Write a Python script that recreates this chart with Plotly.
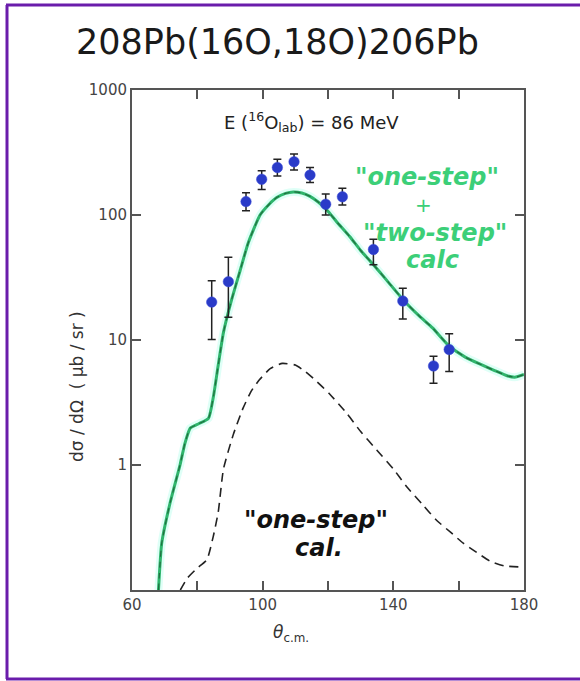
import plotly.graph_objects as go

# ---------------- data ----------------
theta_exp = [84.4, 89.5, 94.9, 99.7, 104.5, 109.6, 114.5, 119.3, 124.4, 133.9, 142.9, 152.3, 157.1]
sigma_exp = [20.1, 29.3, 128, 193, 240, 267, 209, 122, 140, 53, 20.5, 6.2, 8.4]
err_hi    = [29.8, 45.9, 151, 226, 279, 307, 240, 147, 164, 64, 26, 7.4, 11.2]
err_lo    = [10.1, 15.2, 108, 160, 205, 229, 182, 100, 120, 40, 14.7, 4.5, 5.6]

theta_sum = [68.1, 69.1, 71.6, 74.7, 76.2, 77.8, 80.3, 83.4, 84.9, 86.4, 88.0, 90.5, 93.1,
             95.6, 99.2, 102.0, 104.3, 107.0, 109.4, 112.0, 114.5, 117.0, 119.6, 122.7,
             126.7, 130.0, 133.9, 138.0, 143.0, 148.0, 152.0, 157.0, 162.0, 166.6, 171.0,
             175.0, 177.5, 180.0]
sigma_sum = [0.1, 0.237, 0.49, 1.0, 1.49, 1.97, 2.13, 2.36, 3.5, 6.3, 11.5, 21, 36,
             60, 100, 122, 138, 149, 153, 150, 141, 127, 110, 88,
             67, 52, 40, 30, 21, 15.5, 12.5, 9.0, 7.3, 6.4, 5.7,
             5.15, 5.05, 5.3]

theta_one = [74.8, 77.0, 80.0, 82.9, 84.9, 86.4, 88.0, 91.0, 94.0, 96.5, 99.0, 102.3, 106.0,
             110.0, 113.0, 116.0, 120.5, 125.7, 130.0, 134.9, 140.0, 144.1, 149.0, 153.3,
             157.5, 161.4, 165.5, 169.6, 174.0, 178.8, 180.0]
sigma_one = [0.1, 0.125, 0.15, 0.174, 0.27, 0.42, 0.93, 1.75, 2.85, 3.9, 4.8, 5.9, 6.5,
             6.3, 5.6, 4.8, 3.7, 2.6, 1.85, 1.32, 0.93, 0.67, 0.48, 0.36,
             0.29, 0.237, 0.2, 0.17, 0.156, 0.153, 0.153]

x_tickvals = [60, 80, 100, 120, 140, 160, 180]
x_ticktext = ["60", "", "100", "", "140", "", "180"]
y_tickvals = [1, 10, 100, 1000]
y_ticktext = ["1", "10", "100", "1000"]

# ---------------- figure ----------------
W, H = 580, 681
L, R, T, B = 132, 56, 90, 91
pw, ph = W - L - R, H - T - B

def px(xp):
    return (xp - L) / pw

def py(yp):
    return (H - B - yp) / ph

fig = go.Figure()

# glow under the summed calculation
fig.add_trace(go.Scatter(x=theta_sum, y=sigma_sum, mode="lines",
                         line=dict(color="rgba(150,255,230,0.3)", width=8, shape="spline", smoothing=0.5),
                         hoverinfo="skip", showlegend=False))
fig.add_trace(go.Scatter(x=theta_sum, y=sigma_sum, mode="lines",
                         line=dict(color="#2fb56c", width=3, shape="spline", smoothing=0.5),
                         showlegend=False))
fig.add_trace(go.Scatter(x=theta_sum, y=sigma_sum, mode="lines",
                         line=dict(color="rgba(20,40,20,0.5)", width=1.2, dash="6px,5px",
                                   shape="spline", smoothing=0.5),
                         hoverinfo="skip", showlegend=False))
# one-step calculation
fig.add_trace(go.Scatter(x=theta_one, y=sigma_one, mode="lines",
                         line=dict(color="#222222", width=1.6, dash="9px,6px", shape="spline", smoothing=0.5),
                         showlegend=False))
# data
fig.add_trace(go.Scatter(
    x=theta_exp, y=sigma_exp, mode="markers",
    marker=dict(color="#2a3bc8", size=10.5, line=dict(color="#3a4ad8", width=0.5)),
    error_y=dict(type="data", symmetric=False,
                 array=[h - v for h, v in zip(err_hi, sigma_exp)],
                 arrayminus=[v - l for v, l in zip(sigma_exp, err_lo)],
                 color="#222222", thickness=1.5, width=4),
    showlegend=False))

axis_common = dict(showline=True, linecolor="#555555", linewidth=2, mirror="ticks",
                   ticks="inside", ticklen=9, tickwidth=1.5, tickcolor="#555555",
                   showgrid=False, zeroline=False,
                   tickfont=dict(family="DejaVu Sans", size=15, color="#444444"))

fig.update_xaxes(range=[60, 180], tickmode="array", tickvals=x_tickvals, ticktext=x_ticktext,
                 **axis_common)
fig.update_yaxes(type="log", range=[-1, 3], tickmode="array", tickvals=y_tickvals,
                 ticktext=y_ticktext, **axis_common)

green = "#3ccf78"
ann_font_g = dict(family="DejaVu Sans", size=24, color=green)
ann_font_k = dict(family="DejaVu Sans", size=24, color="#111111")


def ann(xp, yp, text, font, **kw):
    d = dict(x=px(xp), y=py(yp), xref="paper", yref="paper", text=text,
             showarrow=False, font=font, xanchor="center", yanchor="middle")
    d.update(kw)
    return d


annotations = [
    ann(277.5, 42, "208Pb(16O,18O)206Pb", dict(family="DejaVu Sans", size=35, color="#1a1a1a")),
    ann(311, 122, "E (<sup>16</sup>O<sub>lab</sub>) = 86 MeV",
        dict(family="DejaVu Sans", size=18, color="#222222")),
    ann(427, 177, '<b><i>"one-step"</i></b>', ann_font_g),
    ann(423, 205, "+", dict(family="DejaVu Sans", size=20, color=green)),
    ann(435, 233, '<b><i>"two-step"</i></b>', ann_font_g),
    ann(432, 260, "<b><i>calc</i></b>", ann_font_g),
    ann(316, 520, '<b><i>"one-step"</i></b>', ann_font_k),
    ann(319, 548, "<b><i>cal.</i></b>", ann_font_k),
    ann(77, 387, "dσ / dΩ  ( μb / sr )", dict(family="DejaVu Sans", size=17, color="#333333"),
        textangle=-90),
    ann(291, 633, "<i>θ</i><sub>c.m.</sub>", dict(family="DejaVu Sans", size=17, color="#333333")),
]

border = dict(color="#6a1cab", width=3)
fig.update_layout(
    width=W, height=H,
    margin=dict(l=L, r=R, t=T, b=B),
    paper_bgcolor="white", plot_bgcolor="white",
    annotations=annotations,
    shapes=[
        dict(type="line", xref="paper", yref="paper", x0=px(7), x1=px(7), y0=py(679), y1=py(5), line=border),
        dict(type="line", xref="paper", yref="paper", x0=px(6), x1=px(582), y0=py(5), y1=py(5), line=border),
        dict(type="line", xref="paper", yref="paper", x0=px(6), x1=px(582), y0=py(679), y1=py(679), line=border),
    ],
)

fig.write_html("out.html")
